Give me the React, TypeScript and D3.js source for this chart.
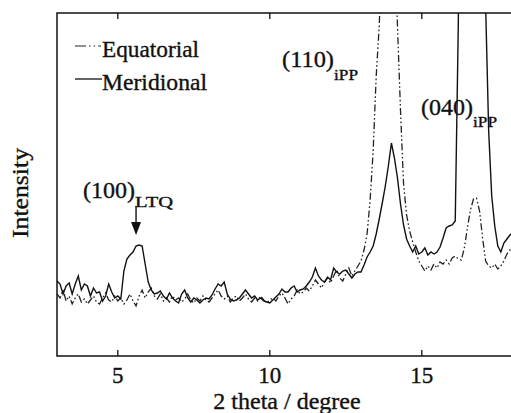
import React from "react";
import * as d3 from "d3";

const twoTheta = [
  3.0, 3.1, 3.2, 3.3, 3.4, 3.5, 3.6, 3.7, 3.8, 3.9,
  4.0, 4.1, 4.2, 4.3, 4.4, 4.5, 4.6, 4.7, 4.8, 4.9,
  5.0, 5.1, 5.2, 5.3, 5.4, 5.5, 5.6, 5.7, 5.8, 5.9,
  6.0, 6.1, 6.2, 6.3, 6.4, 6.5, 6.6, 6.7, 6.8, 6.9,
  7.0, 7.1, 7.2, 7.3, 7.4, 7.5, 7.6, 7.7, 7.8, 7.9,
  8.0, 8.1, 8.2, 8.3, 8.4, 8.5, 8.6, 8.7, 8.8, 8.9,
  9.0, 9.1, 9.2, 9.3, 9.4, 9.5, 9.6, 9.7, 9.8, 9.9,
  10.0, 10.1, 10.2, 10.3, 10.4, 10.5, 10.6, 10.7, 10.8, 10.9,
  11.0, 11.1, 11.2, 11.3, 11.4, 11.5, 11.6, 11.7, 11.8, 11.9,
  12.0, 12.1, 12.2, 12.3, 12.4, 12.5, 12.6, 12.7, 12.8, 12.9,
  13.0, 13.1, 13.2, 13.3, 13.4, 13.5, 13.6, 13.7, 13.8, 13.9,
  14.0, 14.1, 14.2, 14.3, 14.4, 14.5, 14.6, 14.7, 14.8, 14.9,
  15.0, 15.1, 15.2, 15.3, 15.4, 15.5, 15.6, 15.7, 15.8, 15.9,
  16.0, 16.1, 16.2, 16.3, 16.4, 16.5, 16.6, 16.7, 16.8, 16.9,
  17.0, 17.1, 17.2, 17.3, 17.4, 17.5, 17.6, 17.7, 17.8, 17.9,
  18.0,
];

const meridional = [
  75, 72, 62, 70, 73, 62, 72, 80, 66, 72,
  70, 60, 68, 63, 64, 55, 60, 72, 64, 58,
  60, 57, 85, 97, 101, 104, 110, 111, 110, 92,
  74, 66, 62, 63, 65, 60, 57, 63, 58, 55,
  53, 62, 66, 58, 54, 58, 56, 53, 56, 58,
  57, 61, 67, 72, 70, 74, 62, 57, 55, 56,
  58, 62, 66, 62, 58, 60, 56, 58, 55, 54,
  53, 56, 59, 62, 67, 64, 64, 68, 70, 64,
  66, 67, 70, 74, 79, 88, 80, 76, 74, 79,
  76, 88, 84, 82, 85, 86, 82, 78, 82, 84,
  84, 91, 99, 104, 110, 122, 137, 153, 170, 190,
  213, 198, 178, 152, 131, 117, 110, 104, 110, 102,
  104, 108, 101, 104, 102, 104, 109, 118, 128, 130,
  131, 135, 330, 700, 1000, 1200, 1300, 1200, 1000, 800,
  600, 350, 225, 160, 130, 110, 104, 113, 117, 121,
  124,
];

const equatorial = [
  62, 58, 66, 55, 60, 52, 58, 62, 54, 57,
  52, 56, 60, 54, 52, 58, 63, 56, 54, 60,
  55, 58, 52, 56, 62, 55, 50, 60, 66, 58,
  64, 68, 60, 57, 62, 55, 58, 54, 60, 56,
  58, 54, 57, 62, 56, 53, 58, 55, 60, 56,
  54, 58, 62, 66, 60, 57, 60, 54, 58, 60,
  55, 58, 62, 57, 54, 58, 55, 60, 56, 53,
  56, 58, 55, 60, 63, 58, 52, 57, 60, 66,
  62, 64, 68, 65, 70, 76, 72, 68, 74, 78,
  73, 80, 86, 78, 75, 82, 88, 80, 85, 90,
  95, 106, 122, 156, 205, 280, 330, 420, 550, 600,
  560, 420, 330, 245, 172, 141, 125, 114, 104, 95,
  90, 85, 90, 86, 92, 88, 94, 92, 96, 92,
  98, 100, 97, 96, 108, 128, 146, 157, 158, 145,
  118, 95, 90, 88, 92, 87, 90, 95, 102, 106,
  108,
];

const xTicks = [5, 10, 15];
const seriesNames = ["Equatorial", "Meridional"];
const xTitle = "2 theta / degree";
const yTitle = "Intensity";

const W = 511;
const H = 413;
const left = 57;
const right = 513;
const top = 13;
const bottom = 356;

const FONT = "'Liberation Serif', 'DejaVu Serif', 'Times New Roman', serif";
const DASH = "7,2.5,1.6,2.5,1.6,2.5";
const txt = { fontFamily: FONT, fill: "#111", stroke: "#111", strokeWidth: 0.35 };

export default function App() {
  const x = d3.scaleLinear().domain([3, 18]).range([left, right]);
  const y = d3.scaleLinear().domain([0, 343]).range([bottom, top]);

  const line = d3
    .line<number>()
    .x((_, i) => x(twoTheta[i]))
    .y((d) => y(d));

  return (
    <svg
      width={W}
      height={H}
      style={{ position: "absolute", left: 0, top: 0, background: "#fff", fontFamily: FONT }}
    >
      <defs>
        <clipPath id="plotClip">
          <rect x={left} y={top} width={right - left} height={bottom - top} />
        </clipPath>
      </defs>

      <g clipPath="url(#plotClip)" fill="none">
        <path d={line(equatorial) || ""} stroke="#222" strokeWidth={1.3} strokeDasharray={DASH} />
        <path d={line(meridional) || ""} stroke="#111" strokeWidth={1.4} />
      </g>

      {/* frame */}
      <rect x={left} y={top} width={right - left} height={bottom - top} fill="none" stroke="#111" strokeWidth={1.5} />

      {/* ticks */}
      {xTicks.map((t) => (
        <g key={t}>
          <line x1={x(t)} x2={x(t)} y1={bottom} y2={bottom - 6} stroke="#111" strokeWidth={1.3} />
          <line x1={x(t)} x2={x(t)} y1={top} y2={top + 6} stroke="#111" strokeWidth={1.3} />
          <text x={x(t)} y={383} fontSize={23} textAnchor="middle" style={txt}>
            {t}
          </text>
        </g>
      ))}

      <text x={287} y={409} fontSize={24} textAnchor="middle" style={txt}>
        {xTitle}
      </text>
      <text
        transform="translate(28,193) rotate(-90)"
        fontSize={24}
        textAnchor="middle"
        textLength={90}
        lengthAdjust="spacingAndGlyphs"
        style={txt}
      >
        {yTitle}
      </text>

      {/* legend */}
      <line x1={75} x2={101} y1={46} y2={46} stroke="#222" strokeWidth={1.2} strokeDasharray="11,3,1.6,3,1.6,3" />
      <text x={102} y={57} fontSize={23} style={txt} textLength={97} lengthAdjust="spacingAndGlyphs">
        {seriesNames[0]}
      </text>
      <line x1={75} x2={102} y1={79} y2={79} stroke="#111" strokeWidth={1.3} />
      <text x={102} y={90} fontSize={23} style={txt} textLength={105} lengthAdjust="spacingAndGlyphs">
        {seriesNames[1]}
      </text>

      {/* peak labels */}
      <text x={282} y={67} fontSize={24} style={txt} textLength={52} lengthAdjust="spacingAndGlyphs">(110)</text>
      <text x={334} y={80} fontSize={14} style={txt} textLength={24} lengthAdjust="spacingAndGlyphs">iPP</text>

      <text x={421} y={115} fontSize={24} style={txt} textLength={52} lengthAdjust="spacingAndGlyphs">(040)</text>
      <text x={473} y={127} fontSize={14} style={txt} textLength={24} lengthAdjust="spacingAndGlyphs">iPP</text>

      <text x={83} y={198} fontSize={24} style={txt} textLength={52} lengthAdjust="spacingAndGlyphs">(100)</text>
      <text x={135} y={207} fontSize={15} style={txt} textLength={38} lengthAdjust="spacingAndGlyphs">LTQ</text>

      {/* arrow */}
      <line x1={x(5.6)} x2={x(5.6)} y1={206} y2={225} stroke="#111" strokeWidth={1.4} />
      <path
        d={`M${x(5.6) - 5},222 L${x(5.6) + 5},222 L${x(5.6)},235 Z`}
        fill="#111"
      />
    </svg>
  );
}
